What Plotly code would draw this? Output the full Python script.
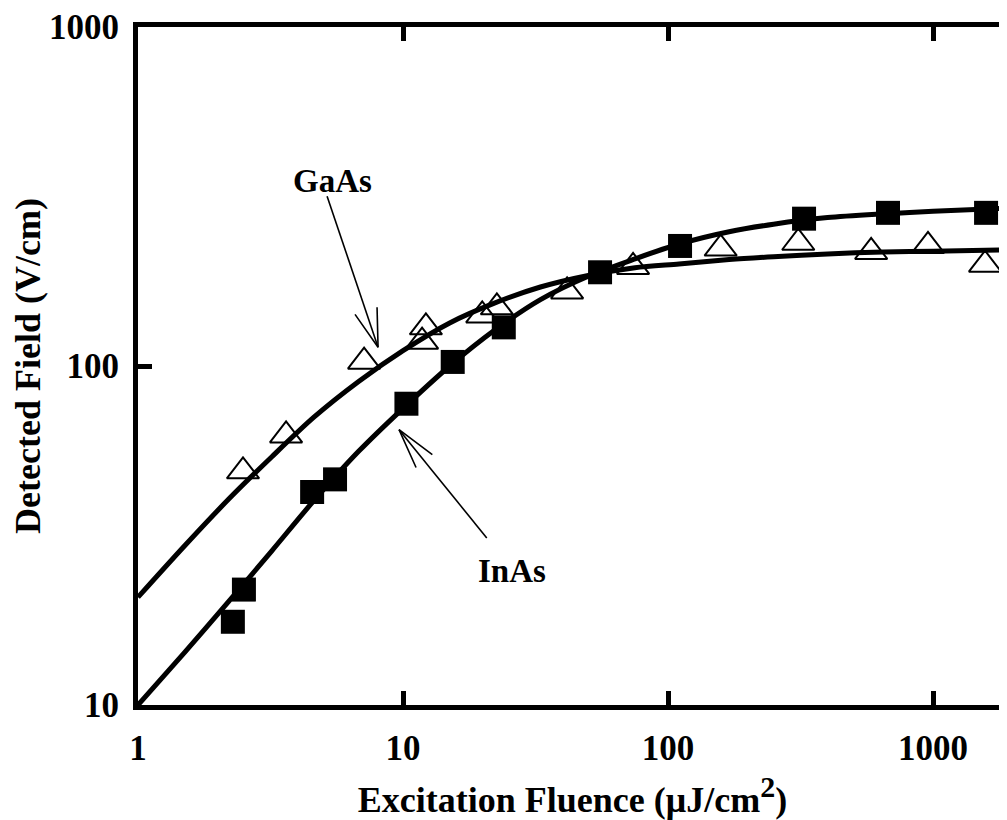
import numpy as np
import plotly.graph_objects as go

# ---- data ----
inas_fluence = [2.28, 2.51, 4.54, 5.54, 10.3, 15.4, 24.0, 55.4, 111, 326, 676, 1585]
inas_field = [17.6, 21.9, 42.5, 46.3, 77.4, 102.8, 130, 189, 226, 272, 283, 283]

gaas_fluence = [2.49, 3.62, 7.13, 11.8, 12.2, 19.9, 22.6, 41.6, 73.8, 158, 310, 584, 957, 1571]
gaas_field = [48.9, 62.4, 103, 118, 130, 141, 149, 166, 196, 222, 231, 217, 226, 199]

# fit curves
fit_x = [1.0, 1.5, 2.2, 3.2, 4.6, 6.8, 10, 15, 22, 33, 50, 75, 110, 170, 250, 400, 650, 1000, 1900]
gaas_fit_y = [20.8, 29.5, 40.5, 54, 70.5, 90, 111, 134, 153, 171, 185, 195, 200, 206, 210, 214, 217, 218, 220]
inas_fit_y = [10.0, 14.3, 20.2, 28.5, 40, 56, 75, 100, 127, 157, 184, 207, 229, 249, 262, 274, 281, 286, 292]

# annotation arrows (tail, tip, head ends) and labels
gaas_arrow_x = [5.17, 8.05, None, 6.59, 8.05, 7.98]
gaas_arrow_y = [317, 113.6, None, 142, 113.6, 149]
inas_arrow_x = [20.7, 9.66, None, 11.2, 9.66, 12.9]
inas_arrow_y = [31.1, 64.9, None, 50.2, 64.9, 54.8]
labels = ["GaAs", "InAs"]
label_x = [5.4, 25.8]
label_y = [351, 24.9]

tick_vals_x = [1, 10, 100, 1000]
tick_vals_y = [10, 100, 1000]

FONT = "Liberation Serif"

fig = go.Figure()

for fy in (gaas_fit_y, inas_fit_y):
    fig.add_trace(go.Scatter(x=fit_x, y=fy, mode="lines",
                             line=dict(color="black", width=5, shape="spline", smoothing=0.8),
                             showlegend=False, hoverinfo="skip"))
fig.add_trace(go.Scatter(x=gaas_fluence, y=gaas_field, mode="markers", name="GaAs",
                         marker=dict(symbol="triangle-up-open", size=28, color="black",
                                     line=dict(color="black", width=2)),
                         showlegend=False))
fig.add_trace(go.Scatter(x=inas_fluence, y=inas_field, mode="markers", name="InAs",
                         marker=dict(symbol="square", size=24, color="black",
                                     line=dict(width=0)),
                         showlegend=False))
for ax_, ay_ in [(gaas_arrow_x, gaas_arrow_y), (inas_arrow_x, inas_arrow_y)]:
    fig.add_trace(go.Scatter(x=ax_, y=ay_, mode="lines",
                             line=dict(color="black", width=1.6),
                             showlegend=False, hoverinfo="skip"))

for t, lx, ly in zip(labels, label_x, label_y):
    fig.add_annotation(x=np.log10(lx), y=np.log10(ly), xref="x", yref="y", text=t,
                       showarrow=False,
                       font=dict(family=FONT, size=33, color="black", weight="bold"))

# the page body has an 8px margin, so the figure is sized to fit the window
fig.update_layout(
    width=999, height=812,
    margin=dict(l=130, r=0, t=15, b=115),
    paper_bgcolor="white", plot_bgcolor="white",
    font=dict(family=FONT, color="black", weight="bold"),
)
fig.update_xaxes(
    type="log", range=[0, 3.279],
    tickvals=tick_vals_x, ticktext=[str(v) for v in tick_vals_x],
    ticks="inside", ticklen=14, tickwidth=5, tickcolor="black",
    showline=True, linewidth=5, linecolor="black", mirror="ticks",
    showgrid=False, zeroline=False,
    tickfont=dict(family=FONT, size=35, color="black", weight="bold"),
    ticklabelstandoff=8, ticklabeloverflow="allow",
    title=dict(text="Excitation Fluence (μJ/cm<sup><span style='font-size:30px'>2</span></sup>)",
               font=dict(family=FONT, size=36, color="black", weight="bold"),
               standoff=21),
)
fig.update_yaxes(
    type="log", range=[1, 3],
    tickvals=tick_vals_y, ticktext=[str(v) for v in tick_vals_y],
    ticks="inside", ticklen=14, tickwidth=5, tickcolor="black",
    showline=True, linewidth=5, linecolor="black", mirror=False,
    showgrid=False, zeroline=False,
    tickfont=dict(family=FONT, size=35, color="black", weight="bold"),
    ticklabelstandoff=7, ticklabeloverflow="allow",
    title=dict(text="Detected Field (V/cm)",
               font=dict(family=FONT, size=36, color="black", weight="bold"),
               standoff=0),
)

fig.write_html("out.html")
